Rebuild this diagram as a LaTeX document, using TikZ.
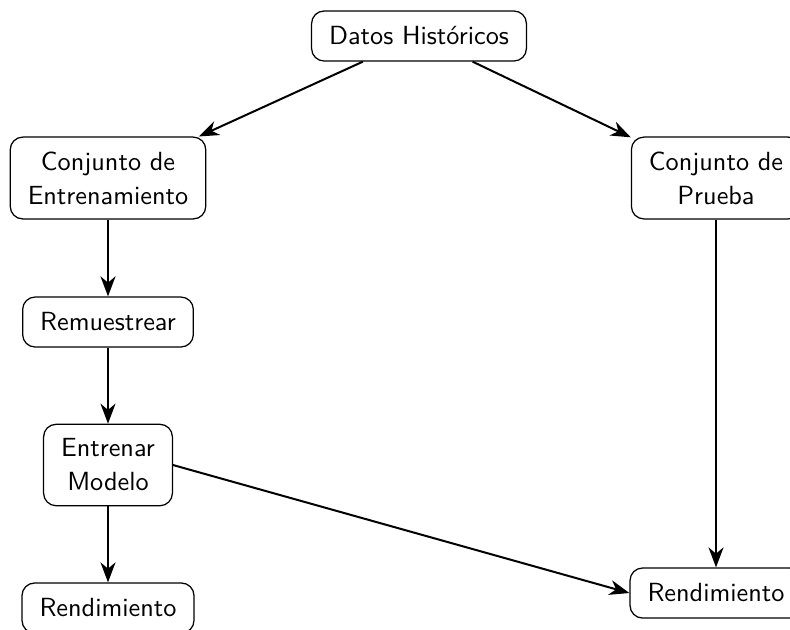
\documentclass[tikz,border=0pt]{standalone}
\usetikzlibrary{arrows.meta}
\begin{document}
\begin{tikzpicture}[x=0.4pt,y=-0.4pt,
  box/.style={draw, rounded corners=5pt, line width=0.5pt, align=center,
    font=\sffamily\fontsize{10.5}{13.6}\selectfont,
    inner xsep=7pt, inner ysep=5.8pt, minimum height=20pt},
  arr/.style={-{Stealth[length=8pt,width=6pt,inset=2.5pt]}, line width=0.8pt}]
\useasboundingbox (0,0) rectangle (790,629);
\begin{scope}
\clip (0,0) rectangle (790,629);
\node[box] (datos) at (419,36) {Datos Históricos};
\node[box] (entset) at (108,178) {Conjunto de\\Entrenamiento};
\node[box] (prueba) at (716,178) {Conjunto de\\Prueba};
\node[box] (remu) at (108,322) {Remuestrear};
\node[box] (entmod) at (108,465) {Entrenar\\Modelo};
\node[box] (rendL) at (108,608) {Rendimiento};
\node[box] (rendR) at (716,593) {Rendimiento};
\draw[arr] (datos) -- (entset);
\draw[arr] (datos) -- (prueba);
\draw[arr] (entset) -- (remu);
\draw[arr] (remu) -- (entmod);
\draw[arr] (entmod) -- (rendL);
\draw[arr] (entmod.east) -- (rendR.west);
\draw[arr] (prueba) -- (rendR);
\end{scope}
\end{tikzpicture}
\end{document}
